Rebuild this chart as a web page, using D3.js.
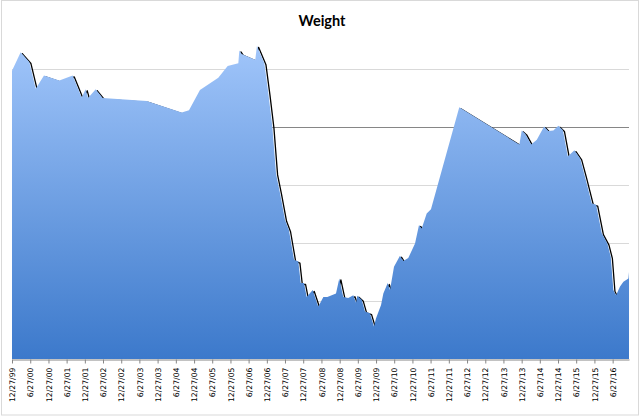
<!DOCTYPE html>
<html>
<head>
<meta charset="utf-8">
<script src="https://cdn.jsdelivr.net/npm/d3@7"></script>
<style>
  body { margin: 0; background: #fff; }
  .axis text { font-family: "DejaVu Sans", sans-serif; font-size: 7.7px; fill: #000; }
</style>
</head>
<body>
<div id="plot"></div>
<script>
const width = 640, height = 416
const margin = ({top: 11, right: 11, bottom: 57, left: 12})

// weigh-in dates and values
const dates = ['1999-12-27','2000-03-23','2000-06-18','2000-08-21','2000-11-12','2001-04-15','2001-08-27',
  '2001-11-25','2002-01-04','2002-01-28','2002-04-15','2002-06-24','2003-09-09','2004-08-25','2004-11-06',
  '2005-02-24','2005-08-27','2005-11-29','2006-03-16','2006-03-26','2006-04-19','2006-09-02','2006-09-19',
  '2006-12-02','2007-01-11','2007-02-20','2007-03-29','2007-05-08','2007-06-27','2007-08-06','2007-09-26',
  '2007-11-08','2007-12-02','2008-01-04','2008-01-31','2008-03-31','2008-05-26','2008-07-16','2008-08-25',
  '2008-10-08','2008-11-20','2008-12-23','2009-02-01','2009-03-23','2009-05-13','2009-06-09','2009-06-22',
  '2009-08-05','2009-09-07','2009-10-27','2009-12-06','2009-12-26','2010-02-15','2010-03-10','2010-04-23',
  '2010-05-16','2010-06-25','2010-08-24','2010-09-26','2010-11-15','2011-01-22','2011-03-03','2011-03-30',
  '2011-05-19','2011-07-01','2012-04-10','2013-12-04','2013-12-28','2014-01-30','2014-04-01','2014-05-28',
  '2014-08-09','2014-09-21','2014-11-10','2014-12-30','2015-02-13','2015-04-04','2015-06-09','2015-08-05',
  '2015-09-24','2015-12-01','2016-01-13','2016-03-10','2016-05-05','2016-06-08','2016-07-04','2016-07-31',
  '2016-09-09','2016-10-13','2016-12-02','2016-12-08']
const weights = [199.7,202.9,201.2,196.6,198.9,198.0,198.9,
  195.1,196.5,195.0,196.5,195.0,194.5,192.5,192.9,
  196.4,198.5,200.5,201.0,203.2,202.6,201.6,204.0,
  201.0,195.8,190.1,182.0,178.6,174.0,172.2,167.1,
  166.8,163.1,163.1,160.7,161.9,159.0,160.7,160.7,
  161.0,161.3,163.9,160.7,160.5,161.0,159.7,160.9,
  160.2,158.2,157.9,155.6,157.0,159.3,161.3,163.1,
  161.9,165.9,167.8,166.9,167.4,169.9,173.1,172.5,
  175.1,175.8,193.4,187.0,189.4,188.9,187.0,187.8,
  190.1,189.3,189.4,190.2,189.5,184.9,186.0,184.6,
  181.4,176.8,176.6,171.7,169.9,167.6,161.9,161.0,
  162.5,163.3,163.9,165.0]

const tickLabels = ['12/27/99','6/27/00','12/27/00','6/27/01','12/27/01','6/27/02','12/27/02','6/27/03',
  '12/27/03','6/27/04','12/27/04','6/27/05','12/27/05','6/27/06','12/27/06','6/27/07','12/27/07','6/27/08',
  '12/27/08','6/27/09','12/27/09','6/27/10','12/27/10','6/27/11','12/27/11','6/27/12','12/27/12','6/27/13',
  '12/27/13','6/27/14','12/27/14','6/27/15','12/27/15','6/27/16']
const gridValues = [160, 170, 180, 190, 200]
const yMin = 150, yMax = 210

const parseDay = d3.timeParse('%Y-%m-%d')
const parseTick = d3.timeParse('%m/%d/%y')
const data = dates.map((d, i) => [parseDay(d), weights[i]])

const svg = d3.select('#plot').append('svg')
  .attr('width', width)
  .attr('height', height)

// chart border
svg.append('rect')
  .attr('x', 1.5).attr('y', 0.5)
  .attr('width', width - 3).attr('height', height - 1.5)
  .attr('fill', '#fff')
  .attr('stroke', '#d9d9d9')

svg.append('text')
  .attr('x', 322).attr('y', 26)
  .attr('text-anchor', 'middle')
  .style('font-family', 'Lato, "Open Sans", sans-serif')
  .style('font-weight', 'bold')
  .style('font-size', '14.5px')
  .text('Weight')

const xScale = d3.scaleTime()
  .domain([parseDay('1999-12-27'), parseDay('2016-12-08')])
  .range([margin.left, width - margin.right])
const yScale = d3.scaleLinear()
  .domain([yMin, yMax])
  .range([height - margin.bottom, margin.top])

// gridlines
svg.append('g')
  .selectAll('line')
  .data(gridValues)
  .join('line')
  .attr('x1', margin.left).attr('x2', width - margin.right)
  .attr('y1', d => Math.round(yScale(d)) + 0.5)
  .attr('y2', d => Math.round(yScale(d)) + 0.5)
  .attr('stroke', d => d === 190 ? '#868686' : '#d9d9d9')
  .attr('stroke-width', 1)

const defs = svg.append('defs')
// fill gradient
const grad = defs.append('linearGradient')
  .attr('id', 'fillGrad')
  .attr('gradientUnits', 'userSpaceOnUse')
  .attr('x1', 0).attr('x2', 0)
  .attr('y1', yScale(d3.max(weights))).attr('y2', yScale(yMin))
grad.append('stop').attr('offset', '0%').attr('stop-color', '#a0c5fa')
grad.append('stop').attr('offset', '100%').attr('stop-color', '#3c79cb')

defs.append('clipPath').attr('id', 'plotClip')
  .append('rect')
  .attr('x', margin.left).attr('y', margin.top)
  .attr('width', width - margin.left - margin.right)
  .attr('height', height - margin.top - margin.bottom)

const line = d3.line()
  .x(d => xScale(d[0]))
  .y(d => yScale(d[1]))
const area = d3.area()
  .x(d => xScale(d[0]))
  .y0(yScale(yMin))
  .y1(d => yScale(d[1]))

// shadow edge
svg.append('g')
  .attr('clip-path', 'url(#plotClip)')
  .append('path')
  .datum(data)
  .attr('d', line)
  .attr('transform', 'translate(1.6,1.5)')
  .attr('fill', 'none')
  .attr('stroke', '#000')
  .attr('stroke-width', 1.3)
  .attr('stroke-linejoin', 'round')

svg.append('path')
  .datum(data)
  .attr('d', area)
  .attr('fill', 'url(#fillGrad)')

// x axis
const xaxis = svg.append('g')
  .classed('axis', true)
  .attr('transform', `translate(0,${yScale(yMin) + 0.5})`)
  .call(d3.axisBottom(xScale)
    .tickValues(tickLabels.map(parseTick))
    .tickFormat((d, i) => tickLabels[i])
    .tickSize(4)
    .tickSizeOuter(0))
xaxis.select('.domain').attr('stroke', '#868686')
xaxis.selectAll('.tick line').attr('stroke', '#868686')
xaxis.selectAll('.tick text')
  .attr('transform', 'rotate(-90)')
  .attr('text-anchor', 'end')
  .attr('x', -8)
  .attr('y', 0)
  .attr('dy', '0.35em')
</script>
</body>
</html>
